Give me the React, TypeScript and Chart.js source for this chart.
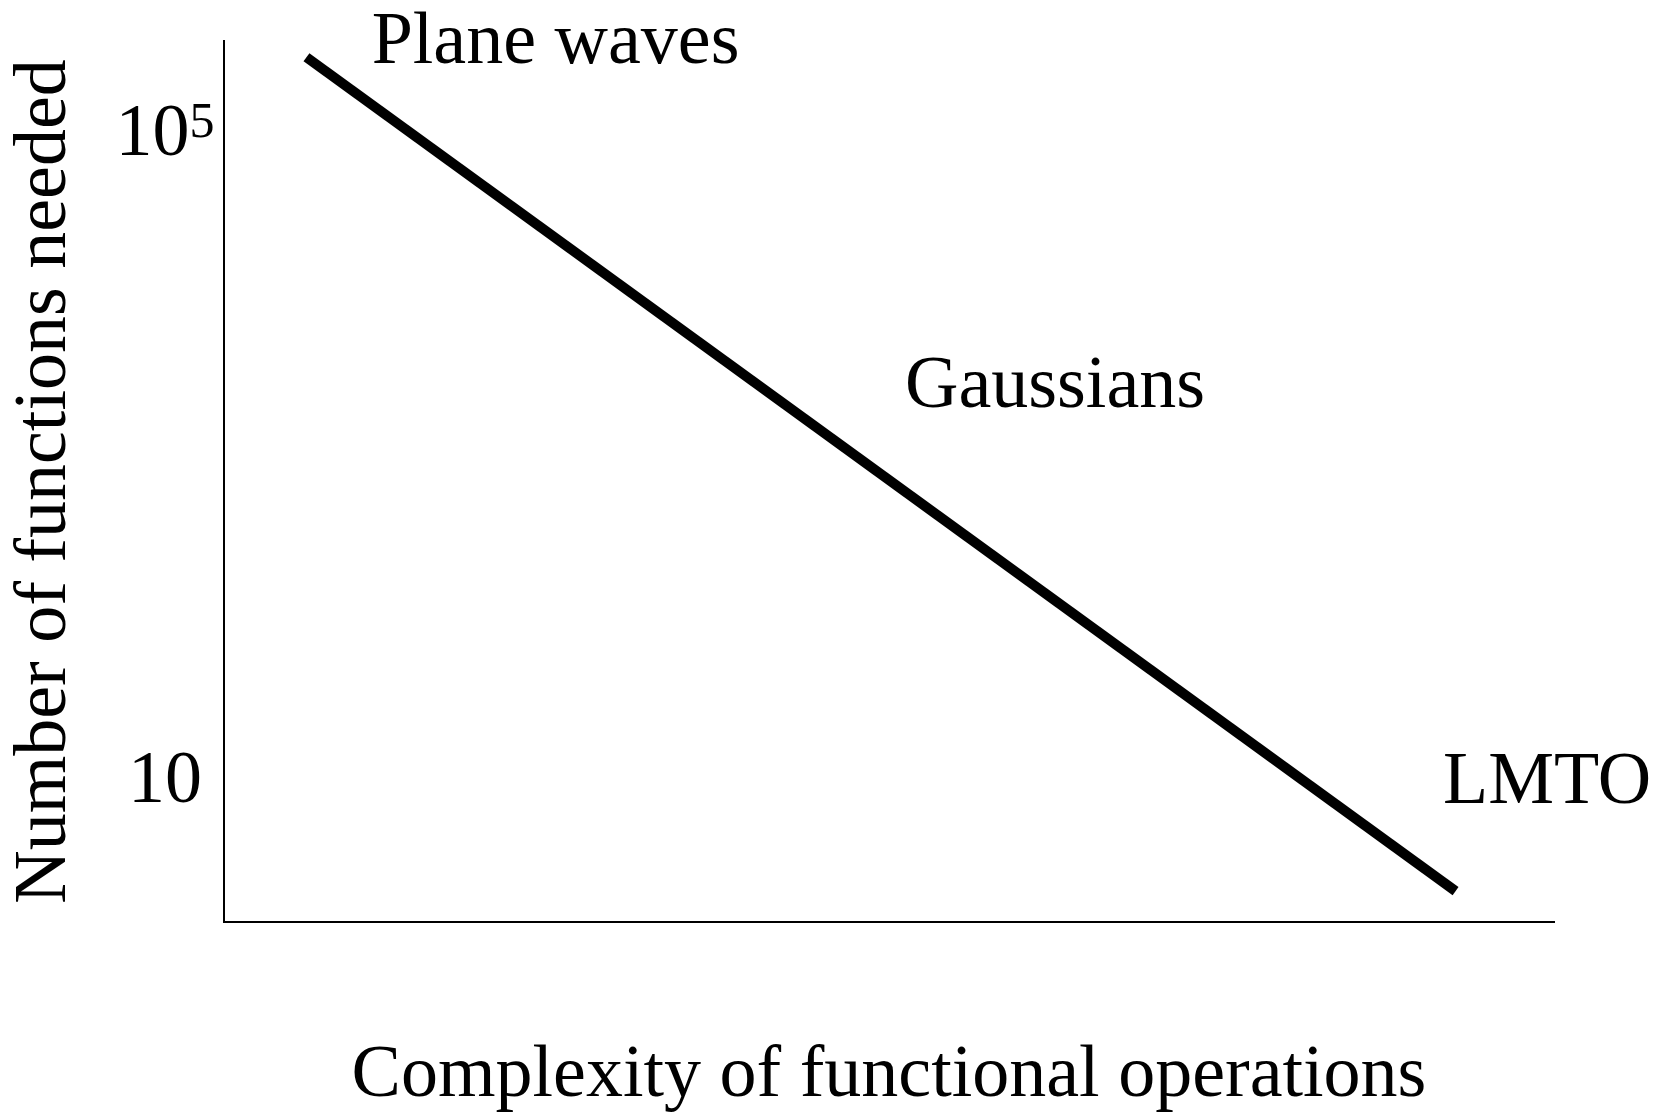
import React, { useEffect, useRef } from "react";
import { Chart, registerables } from "chart.js";

Chart.register(...registerables);

// Basis-set trade-off: number of functions needed vs. complexity of operations
const lineX: number[] = [6.2, 92.6];
const lineY: number[] = [282000, 1.97];

// Logarithmic y-axis range and the two labelled ticks
const yRange: number[] = [1.27, 355000];
const yTickValues: number[] = [10, 100000];
const yTickBase: string[] = ["10", "10"];
const yTickExp: string[] = ["", "5"];

// Method labels placed in data units (left edge, baseline)
const labelText: string[] = ["Plane waves", "Gaussians", "LMTO"];
const labelX: number[] = [11.1, 51.2, 91.65];
const labelY: number[] = [259000, 1939, 6.9];

const xTitle = "Complexity of functional operations";
const yTitle = "Number of functions needed";

const SERIF = "'Liberation Serif', 'Times New Roman', serif";

const textPlugin = {
  id: "serifText",
  afterDraw(chart: any) {
    const { ctx, chartArea } = chart;
    const xs = chart.scales.x;
    const ys = chart.scales.y;
    ctx.save();
    ctx.fillStyle = "#000";
    ctx.textBaseline = "alphabetic";
    ctx.textAlign = "left";

    // tick labels with optional superscript exponent
    const cx = chartArea.left - 59;
    yTickValues.forEach((v, i) => {
      const py = ys.getPixelForValue(v);
      ctx.font = `74px ${SERIF}`;
      const wb = ctx.measureText(yTickBase[i]).width;
      ctx.font = `50px ${SERIF}`;
      const we = yTickExp[i] ? ctx.measureText(yTickExp[i]).width : 0;
      const x0 = cx - (wb + we) / 2;
      const base = py + 25;
      ctx.font = `74px ${SERIF}`;
      ctx.fillText(yTickBase[i], x0, base);
      if (yTickExp[i]) {
        ctx.font = `50px ${SERIF}`;
        ctx.fillText(yTickExp[i], x0 + wb, base - 18);
      }
    });

    // method labels
    ctx.font = `74px ${SERIF}`;
    labelText.forEach((t, i) => {
      ctx.fillText(t, xs.getPixelForValue(labelX[i]), ys.getPixelForValue(labelY[i]));
    });
    ctx.restore();
  },
};

export default function App() {
  const canvasRef = useRef<HTMLCanvasElement | null>(null);

  useEffect(() => {
    document.body.style.margin = "0";
    document.body.style.overflow = "hidden";
    const canvas = canvasRef.current;
    if (!canvas) return;
    const chart = new Chart(canvas, {
      type: "line",
      data: {
        datasets: [
          {
            data: lineX.map((x, i) => ({ x, y: lineY[i] })),
            borderColor: "#000",
            borderWidth: 10,
            borderCapStyle: "butt",
            pointRadius: 0,
            fill: false,
            tension: 0,
          },
        ],
      },
      options: {
        responsive: false,
        animation: false,
        devicePixelRatio: 1,
        layout: { padding: { left: 0, top: 41, right: 103, bottom: 0 } },
        plugins: {
          legend: { display: false },
          tooltip: { enabled: false },
        },
        scales: {
          x: {
            type: "linear",
            min: 0,
            max: 100,
            ticks: { display: false },
            grid: { display: false, drawTicks: false },
            border: { display: true, color: "#000", width: 2 },
            afterFit: (s: any) => {
              s.height = 194;
            },
            title: {
              display: true,
              text: xTitle,
              color: "#000",
              font: { family: SERIF, size: 74, lineHeight: 1 },
              padding: { top: 0, bottom: 2 },
            },
          },
          y: {
            type: "logarithmic",
            min: yRange[0],
            max: yRange[1],
            afterBuildTicks: (s: any) => {
              s.ticks = yTickValues.map((v) => ({ value: v }));
            },
            ticks: { display: false },
            grid: { display: false, drawTicks: false },
            border: { display: true, color: "#000", width: 2 },
            afterFit: (s: any) => {
              s.width = 224;
            },
            title: {
              display: true,
              text: yTitle,
              color: "#000",
              font: { family: SERIF, size: 74, lineHeight: 1 },
              padding: { top: 9, bottom: 0 },
            },
          },
        },
      },
      plugins: [textPlugin],
    } as any);
    return () => chart.destroy();
  }, []);

  return (
    <div style={{ width: 1657, height: 1116, background: "#fff" }}>
      <canvas ref={canvasRef} width={1657} height={1116} style={{ display: "block" }} />
    </div>
  );
}
